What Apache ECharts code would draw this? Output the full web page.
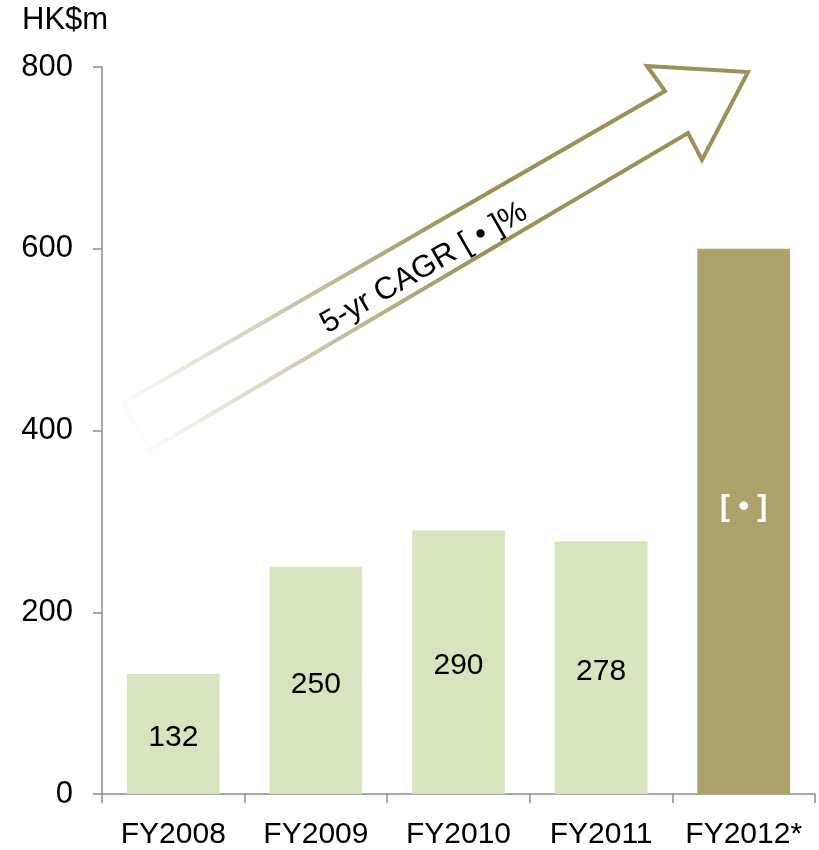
<!DOCTYPE html>
<html>
<head>
<meta charset="utf-8">
<script src="https://cdn.jsdelivr.net/npm/echarts@6/dist/echarts.min.js"></script>
<style>
html,body{margin:0;padding:0;background:#fff;}
#chart{width:819px;height:850px;}
</style>
</head>
<body>
<div id="chart"></div>
<script>
var categories = ['FY2008', 'FY2009', 'FY2010', 'FY2011', 'FY2012*'];
var values = [132, 250, 290, 278, 600];
var valueLabels = ['132', '250', '290', '278', '[ \u2022 ]'];
var yTicks = [0, 200, 400, 600, 800];
var unitLabel = 'HK$m';
var arrowText = '5-yr CAGR [ \u2022 ]%';

var FONT = '"Liberation Sans", Arial, sans-serif';
var LIGHT = '#d7e4bd';
var DARK = '#ada16c';
var OLIVE = '#9b9157';

var chart = echarts.init(document.getElementById('chart'), null, {renderer: 'canvas'});

var barData = values.map(function (v, i) {
  var last = i === values.length - 1;
  return {
    value: v,
    itemStyle: {color: last ? DARK : LIGHT},
    label: last ? {color: '#fff', fontWeight: 'bold', offset: [0, -14]} : {}
  };
});

var option = {
  animation: false,
  backgroundColor: '#fff',
  grid: {left: 102, right: 4, top: 67, bottom: 54},
  xAxis: {
    type: 'category',
    data: categories,
    axisLine: {lineStyle: {color: '#8c8c8c', width: 1.5}},
    axisTick: {show: true, length: 9, lineStyle: {color: '#8c8c8c', width: 1.5}},
    axisLabel: {color: '#000', fontFamily: FONT, fontSize: 30, margin: 26, interval: 0}
  },
  yAxis: {
    type: 'value',
    min: yTicks[0],
    max: yTicks[yTicks.length - 1],
    interval: yTicks[1] - yTicks[0],
    splitLine: {show: false},
    axisLine: {show: true, lineStyle: {color: '#8c8c8c', width: 1.5}},
    axisTick: {show: true, length: 9, lineStyle: {color: '#8c8c8c', width: 1.5}},
    axisLabel: {color: '#000', fontFamily: FONT, fontSize: 31, margin: 29}
  },
  series: [{
    type: 'bar',
    data: barData,
    barWidth: '65%',
    label: {
      show: true,
      position: 'inside',
      offset: [0, 4],
      color: '#000',
      fontFamily: FONT,
      fontSize: 30,
      formatter: function (p) { return valueLabels[p.dataIndex]; }
    }
  }],
  graphic: [
    {
      type: 'text',
      left: 22,
      top: 5,
      style: {text: unitLabel, fill: '#000', font: '31px ' + FONT}
    },
    {
      type: 'polygon',
      shape: {
        points: [[123, 403], [665, 91], [647, 66], [748, 72], [702, 160], [688, 133], [150, 450]]
      },
      style: {
        fill: 'none',
        lineWidth: 4,
        lineJoin: 'miter',
        stroke: new echarts.graphic.LinearGradient(125, 430, 470, 230, [
          {offset: 0, color: 'rgba(155,145,87,0)'},
          {offset: 1, color: OLIVE}
        ], true)
      }
    },
    {
      type: 'text',
      x: 424,
      y: 268,
      rotation: Math.PI / 6,
      style: {
        text: arrowText,
        fill: '#000',
        font: '31px ' + FONT,
        align: 'center',
        verticalAlign: 'middle'
      }
    }
  ]
};
chart.setOption(option);
</script>
</body>
</html>
